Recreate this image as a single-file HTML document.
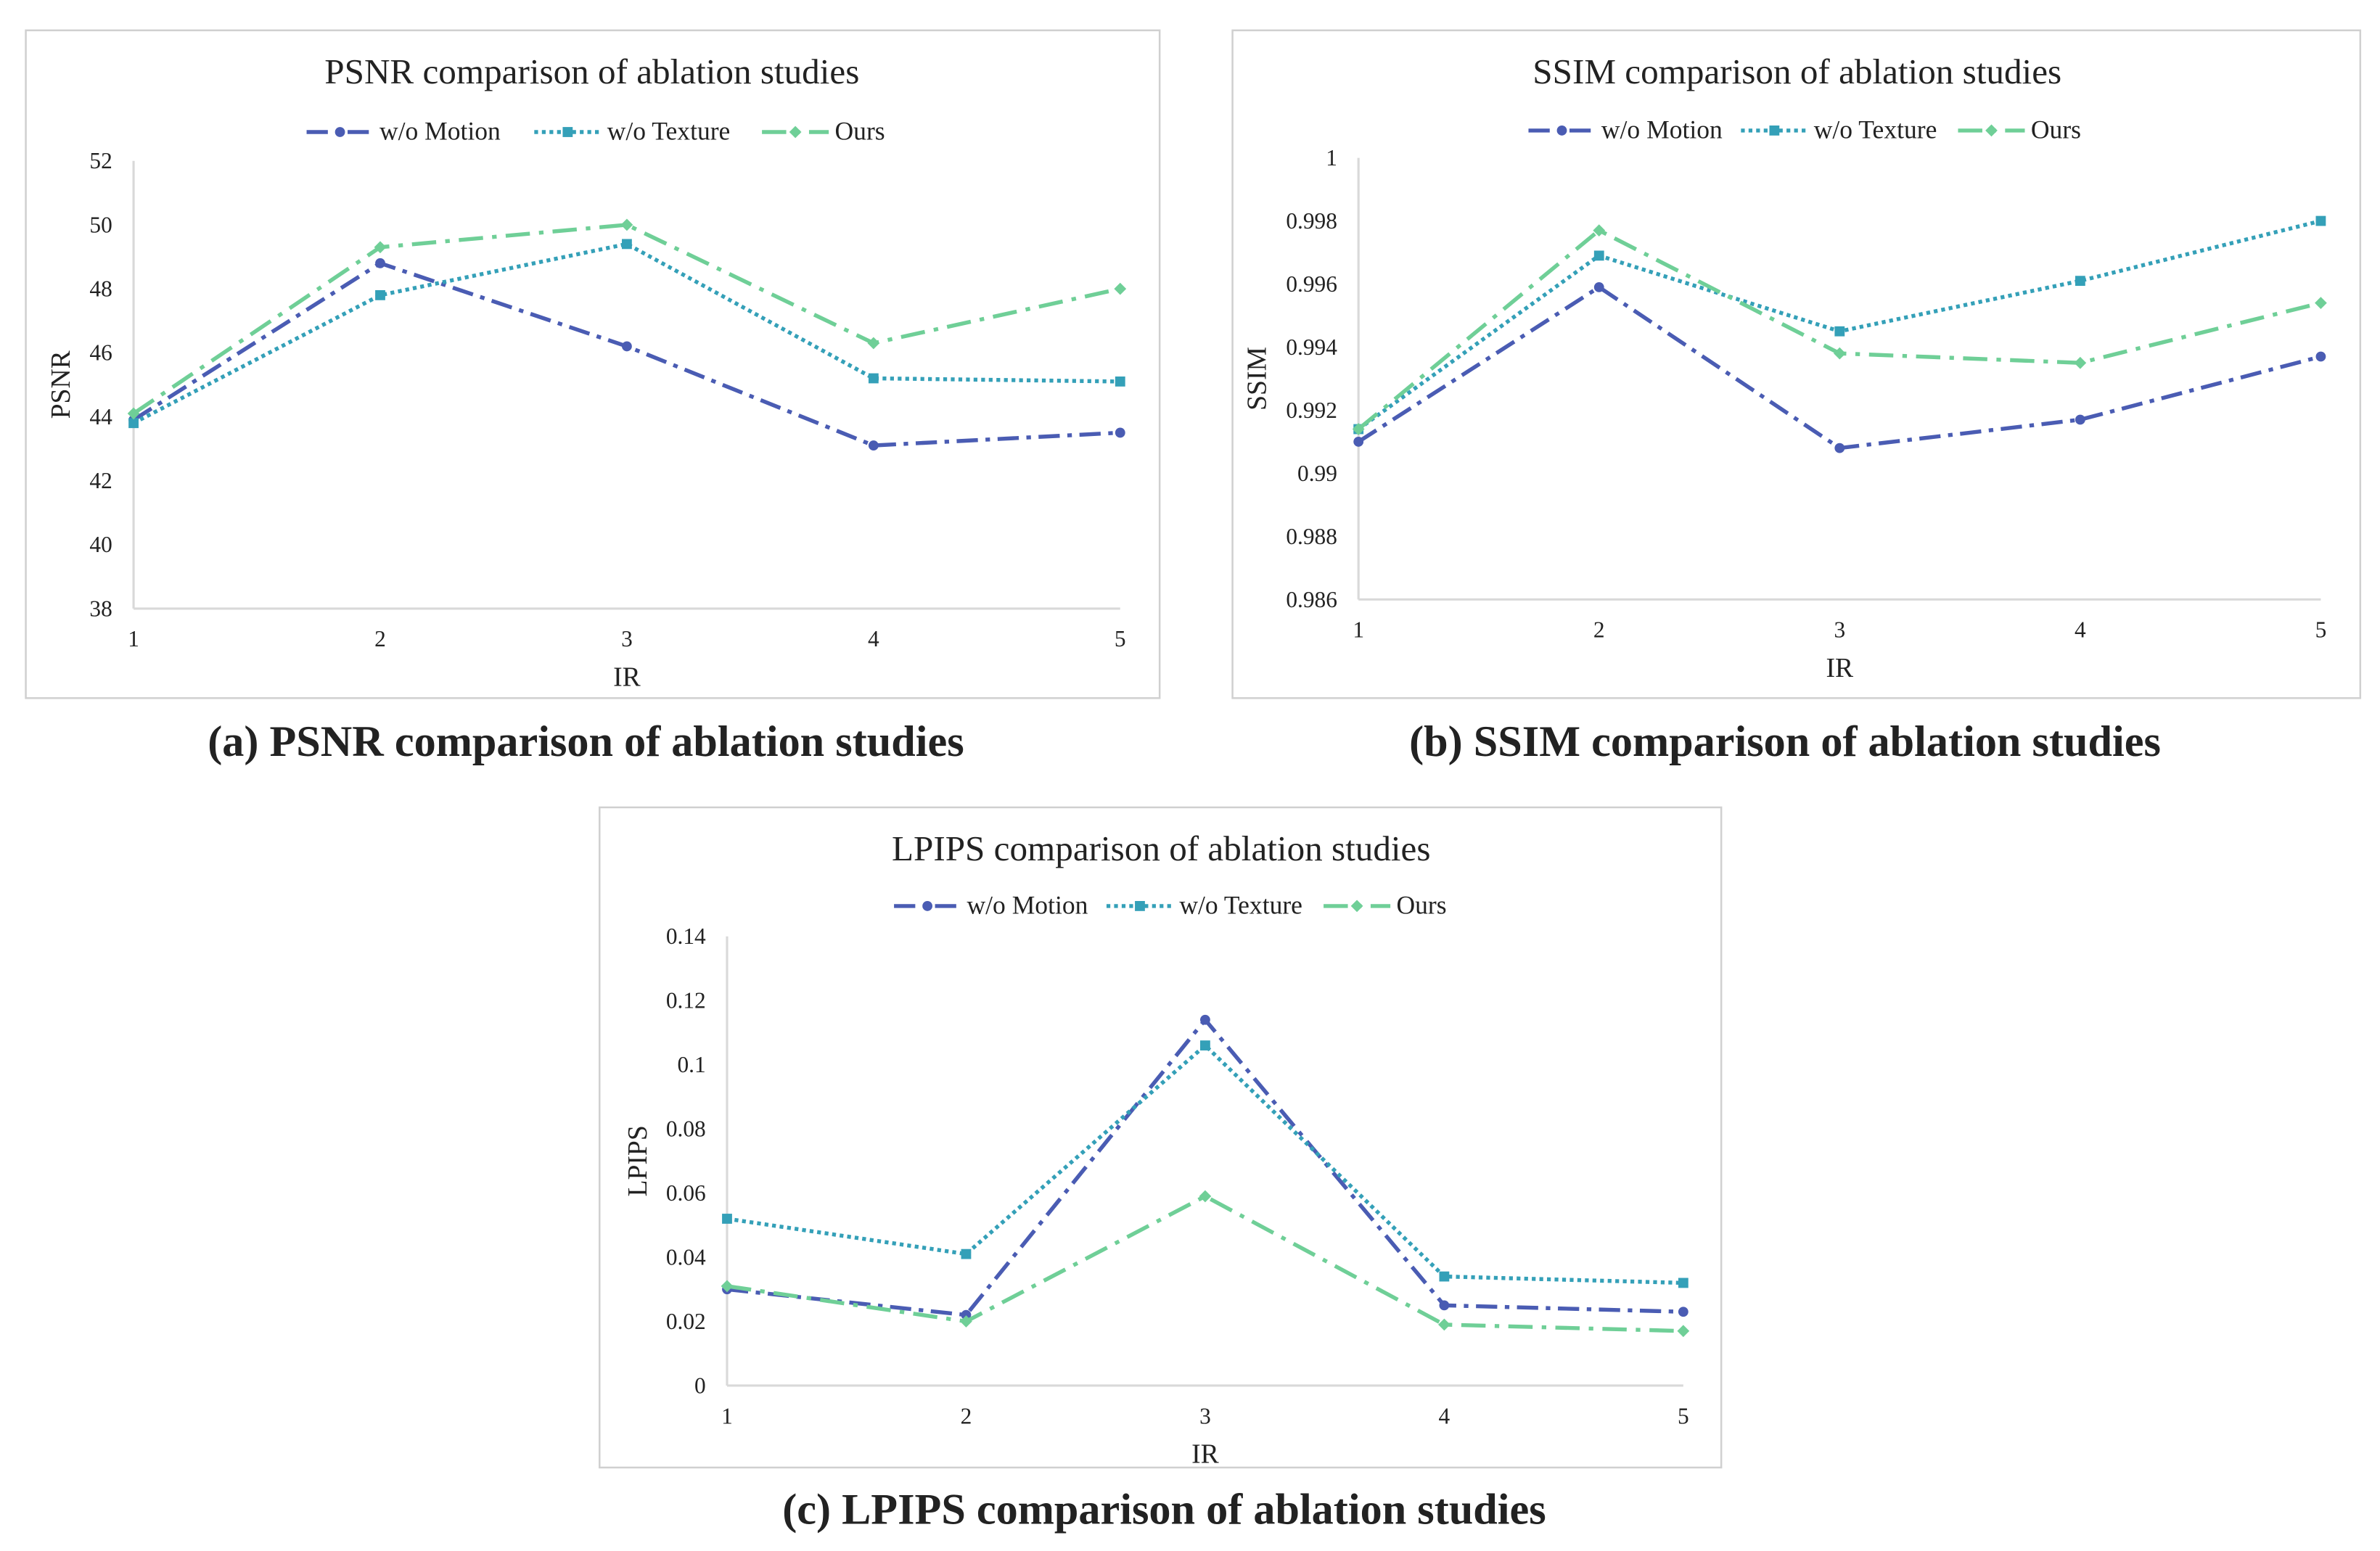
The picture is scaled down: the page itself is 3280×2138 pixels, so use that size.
<!DOCTYPE html>
<html><head><meta charset="utf-8"><style>
html,body{margin:0;padding:0;background:#fff;}
svg{display:block;}
text{font-family:"Liberation Serif",serif;fill:#222;}
</style></head><body>
<svg id="root" width="3280" height="2138" viewBox="0 0 1568 1022" preserveAspectRatio="none" xmlns="http://www.w3.org/2000/svg"></svg>
<script>
const categories=[1,2,3,4,5];
const psnrMotion=[43.9,48.8,46.2,43.1,43.5];
const psnrTexture=[43.8,47.8,49.4,45.2,45.1];
const psnrOurs=[44.1,49.3,50.0,46.3,48.0];
const psnrTicks=[38,40,42,44,46,48,50,52];
const ssimMotion=[0.991,0.9959,0.9908,0.9917,0.9937];
const ssimTexture=[0.9914,0.9969,0.9945,0.9961,0.998];
const ssimOurs=[0.9914,0.9977,0.9938,0.9935,0.9954];
const ssimTicks=[0.986,0.988,0.99,0.992,0.994,0.996,0.998,1];
const ssimTickLabels=["0.986","0.988","0.99","0.992","0.994","0.996","0.998","1"];
const lpipsMotion=[0.030,0.022,0.114,0.025,0.023];
const lpipsTexture=[0.052,0.041,0.106,0.034,0.032];
const lpipsOurs=[0.031,0.020,0.059,0.019,0.017];
const lpipsTicks=[0,0.02,0.04,0.06,0.08,0.1,0.12,0.14];
const lpipsTickLabels=["0","0.02","0.04","0.06","0.08","0.1","0.12","0.14"];

const NS="http://www.w3.org/2000/svg";
const root=document.getElementById('root');
function mk(tag,attrs,parent,txt){const e=document.createElementNS(NS,tag);for(const k in attrs)e.setAttribute(k,attrs[k]);if(txt!==undefined)e.textContent=txt;(parent||root).appendChild(e);return e;}
const styles={
 motion:{c:'#4a5cb3',dash:'14 5 3 5',label:'w/o Motion',m:'circle'},
 texture:{c:'#34a0b8',dash:'2.5 2.5',label:'w/o Texture',m:'square'},
 ours:{c:'#6fcf97',dash:'16 6 3 6',label:'Ours',m:'diamond'}
};
function marker(g,type,x,y,c){
 if(type==='circle')return mk('circle',{cx:x,cy:y,r:3.3,fill:c},g);
 if(type==='square')return mk('rect',{x:x-3.3,y:y-3.3,width:6.6,height:6.6,fill:c},g);
 return mk('path',{d:`M${x} ${y-4}L${x+4} ${y}L${x} ${y+4}L${x-4} ${y}Z`,fill:c},g);
}
function chart(o){
 const g=mk('g',{});
 
 
 const f=mk('rect',{x:o.fx,y:o.fy,width:o.fw,height:o.fh,fill:'#fff',stroke:'#d0d0d0','stroke-width':1.2},g);
 
 const xs=v=>o.x0+(v-1)*(o.x1-o.x0)/4;
 const ys=v=>o.yb+(v-o.ymin)*(o.yt-o.yb)/(o.ymax-o.ymin);
 const t=mk('text',{x:o.tcx,y:o.ty,'text-anchor':'middle','font-size':23.5},g,o.title);
 
 const ya=mk('line',{x1:o.x0,y1:o.yt,x2:o.x0,y2:o.yb,stroke:'#d9d9d9','stroke-width':1.5},g);
 
 const xa=mk('line',{x1:o.x0,y1:o.yb,x2:o.x1,y2:o.yb,stroke:'#d9d9d9','stroke-width':1.5},g);
 
 o.ticks.forEach((v,i)=>{const tl=mk('text',{x:o.x0-14,y:ys(v)+5,'text-anchor':'end','font-size':15},g,o.tickLabels?o.tickLabels[i]:String(v));
  });
 categories.forEach(c=>{const tl=mk('text',{x:xs(c),y:o.yb+25,'text-anchor':'middle','font-size':15},g,String(c));
  });
 const xt=mk('text',{x:(o.x0+o.x1)/2,y:o.yb+51,'text-anchor':'middle','font-size':18},g,'IR');
 
 const yc=(o.yt+o.yb)/2;
 const yt=mk('text',{x:o.ylx,y:yc,'text-anchor':'middle','font-size':18,transform:`rotate(-90 ${o.ylx} ${yc})`},g,o.ylabel);
 
 let lx=o.lx;
 ['motion','texture','ours'].forEach(k=>{const s=styles[k];
  const lg=mk('g',{},g);
  
  mk('line',{x1:lx,y1:o.ly,x2:lx+44,y2:o.ly,stroke:s.c,'stroke-width':2.6,'stroke-dasharray':s.dash},lg);
  marker(lg,s.m,lx+22,o.ly,s.c);
  mk('text',{x:lx+48,y:o.ly+5,'font-size':17},lg,s.label);
  lx+=o.lgap[k];});
 [['motion',o.data[0]],['texture',o.data[1]],['ours',o.data[2]]].forEach(([k,arr])=>{const s=styles[k];
  const sg=mk('g',{},g);
  
  const pts=arr.map((v,i)=>xs(categories[i])+','+ys(v)).join(' ');
  mk('polyline',{points:pts,fill:'none',stroke:s.c,'stroke-width':2.6,'stroke-dasharray':s.dash},sg);
  arr.forEach((v,i)=>{const m=marker(sg,s.m,xs(categories[i]),ys(v),s.c);
   });
 });
}
chart({name:'psnr-chart',fx:17,fy:20,fw:747,fh:440,x0:88,x1:738,yt:106,yb:401,ymin:38,ymax:52,
 ticks:psnrTicks,title:'PSNR comparison of ablation studies',tcx:390,ty:55,ylabel:'PSNR',ylx:46,
 lx:202,ly:87,lgap:{motion:150,texture:150,ours:0},data:[psnrMotion,psnrTexture,psnrOurs]});
chart({name:'ssim-chart',fx:812,fy:20,fw:743,fh:440,x0:895,x1:1529,yt:104,yb:395,ymin:0.986,ymax:1,
 ticks:ssimTicks,tickLabels:ssimTickLabels,title:'SSIM comparison of ablation studies',tcx:1184,ty:55,ylabel:'SSIM',ylx:834,
 lx:1007,ly:86,lgap:{motion:140,texture:143,ours:0},data:[ssimMotion,ssimTexture,ssimOurs]});
chart({name:'lpips-chart',fx:395,fy:532,fw:739,fh:435,x0:479,x1:1109,yt:617,yb:913,ymin:0,ymax:0.14,
 ticks:lpipsTicks,tickLabels:lpipsTickLabels,title:'LPIPS comparison of ablation studies',tcx:765,ty:567,ylabel:'LPIPS',ylx:426,
 lx:589,ly:597,lgap:{motion:140,texture:143,ours:0},data:[lpipsMotion,lpipsTexture,lpipsOurs]});
[['caption-a','(a) PSNR comparison of ablation studies',386,498],['caption-b','(b) SSIM comparison of ablation studies',1176,498],['caption-c','(c) LPIPS comparison of ablation studies',767,1004]].forEach(([n,t,x,y])=>{
 const e=mk('text',{x:x,y:y,'text-anchor':'middle','font-size':28.8,'font-weight':'bold'},root,t);
 });
</script>
</body></html>
